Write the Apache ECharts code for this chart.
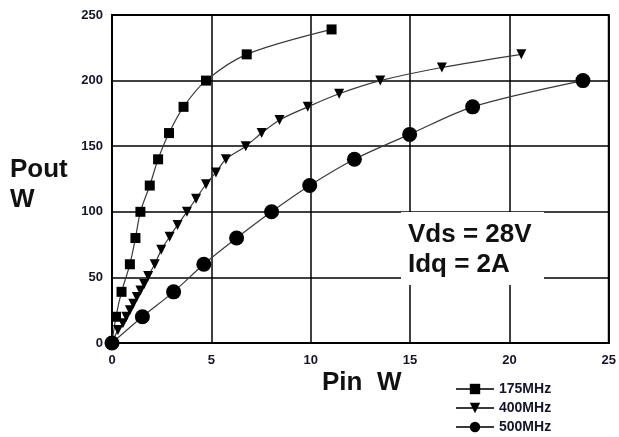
<!DOCTYPE html>
<html>
<head>
<meta charset="utf-8">
<script src="https://cdn.jsdelivr.net/npm/echarts@6/dist/echarts.min.js"></script>
<style>
html,body{margin:0;padding:0;background:#fff;}
#chart{width:619px;height:437px;}
</style>
</head>
<body>
<div id="chart"></div>
<script>
// Data (Pin W, Pout W)
const pin175 = [0, 0.2, 0.48, 0.9, 1.18, 1.43, 1.9, 2.32, 2.87, 3.6, 4.73, 6.78, 11.05];
const pout175 = [0, 20, 39, 60, 80, 100, 120, 140, 160, 180, 200, 220, 239];

const pin400 = [0, 0.3, 0.55, 0.72, 0.9, 1.07, 1.25, 1.43, 1.62, 1.82, 2.15, 2.48, 2.9, 3.3, 3.77, 4.23, 4.73, 5.23, 5.73, 6.73, 7.53, 8.43, 9.85, 11.43, 13.5, 16.6, 20.6];
const pout400 = [0, 10, 15, 20, 25, 30, 35, 40, 45, 51, 60, 71, 81, 90, 100, 110, 121, 130, 140, 150, 160, 170, 180, 190, 200, 210, 220];

const pin500 = [0, 1.53, 3.1, 4.62, 6.27, 8.03, 9.95, 12.2, 14.98, 18.15, 23.7];
const pout500 = [0, 20, 39, 60, 80, 100, 120, 140, 159, 180, 200];

const seriesNames = ['175MHz', '400MHz', '500MHz'];
const xTicks = [0, 5, 10, 15, 20, 25];
const yTicks = [0, 50, 100, 150, 200, 250];

const zip = (a, b) => a.map((v, i) => [v, b[i]]);

const chart = echarts.init(document.getElementById('chart'), null, {renderer: 'canvas'});
const tickFont = {fontFamily: 'Liberation Sans, Arial, sans-serif', fontWeight: 'bold', fontSize: 13, color: '#14142a'};
const lineStyle = {color: '#3a3a3a', width: 1.2};

chart.setOption({
  animation: false,
  backgroundColor: '#fff',
  grid: {left: 112, right: 8, top: 15, bottom: 94, show: true, borderColor: '#000', borderWidth: 2, backgroundColor: 'transparent'},
  xAxis: {
    type: 'value', min: xTicks[0], max: xTicks[xTicks.length - 1], interval: 5,
    axisLine: {show: true, lineStyle: {color: '#000', width: 2}},
    axisTick: {show: false},
    axisLabel: Object.assign({margin: 11}, tickFont),
    splitLine: {show: true, lineStyle: {color: '#000', width: 1.5}}
  },
  yAxis: {
    type: 'value', min: yTicks[0], max: yTicks[yTicks.length - 1], interval: 50,
    axisLine: {show: true, lineStyle: {color: '#000', width: 2}},
    axisTick: {show: false},
    axisLabel: Object.assign({margin: 9}, tickFont),
    splitLine: {show: true, lineStyle: {color: '#000', width: 1.5}}
  },
  legend: {
    orient: 'vertical', left: 455, top: 382, padding: 0,
    itemWidth: 38, itemHeight: 13, itemGap: 5,
    data: seriesNames,
    textStyle: {fontFamily: 'Liberation Sans, Arial, sans-serif', fontWeight: 'bold', fontSize: 14, lineHeight: 14, color: '#14142a'}
  },
  graphic: [
    {type: 'rect', shape: {x: 401, y: 212, width: 143, height: 73}, style: {fill: '#fff'}, z: 5},
    {type: 'text', left: 408, top: 222, style: {text: 'Vds = 28V', font: 'bold 26px "Liberation Sans", Arial, sans-serif', fill: '#111'}, z: 6},
    {type: 'text', left: 408, top: 252, style: {text: 'Idq = 2A', font: 'bold 26px "Liberation Sans", Arial, sans-serif', fill: '#111'}, z: 6},
    {type: 'text', left: 10, top: 157, style: {text: 'Pout', font: 'bold 26px "Liberation Sans", Arial, sans-serif', fill: '#111'}, z: 6},
    {type: 'text', left: 10, top: 187, style: {text: 'W', font: 'bold 26px "Liberation Sans", Arial, sans-serif', fill: '#111'}, z: 6},
    {type: 'text', left: 322, top: 370, style: {text: 'Pin  W', font: 'bold 26px "Liberation Sans", Arial, sans-serif', fill: '#111'}, z: 6}
  ],
  series: [
    {name: seriesNames[0], type: 'line', smooth: 0.3, data: zip(pin175, pout175),
     symbol: 'rect', symbolSize: 10, itemStyle: {color: '#000'}, lineStyle: lineStyle, z: 3},
    {name: seriesNames[1], type: 'line', smooth: 0.3, data: zip(pin400, pout400),
     symbol: 'triangle', symbolRotate: 180, symbolSize: 10, itemStyle: {color: '#000'}, lineStyle: lineStyle, z: 3},
    {name: seriesNames[2], type: 'line', smooth: 0.3, data: zip(pin500, pout500),
     symbol: 'circle', symbolSize: 15, itemStyle: {color: '#000'}, lineStyle: lineStyle, z: 3}
  ]
});
</script>
</body>
</html>
